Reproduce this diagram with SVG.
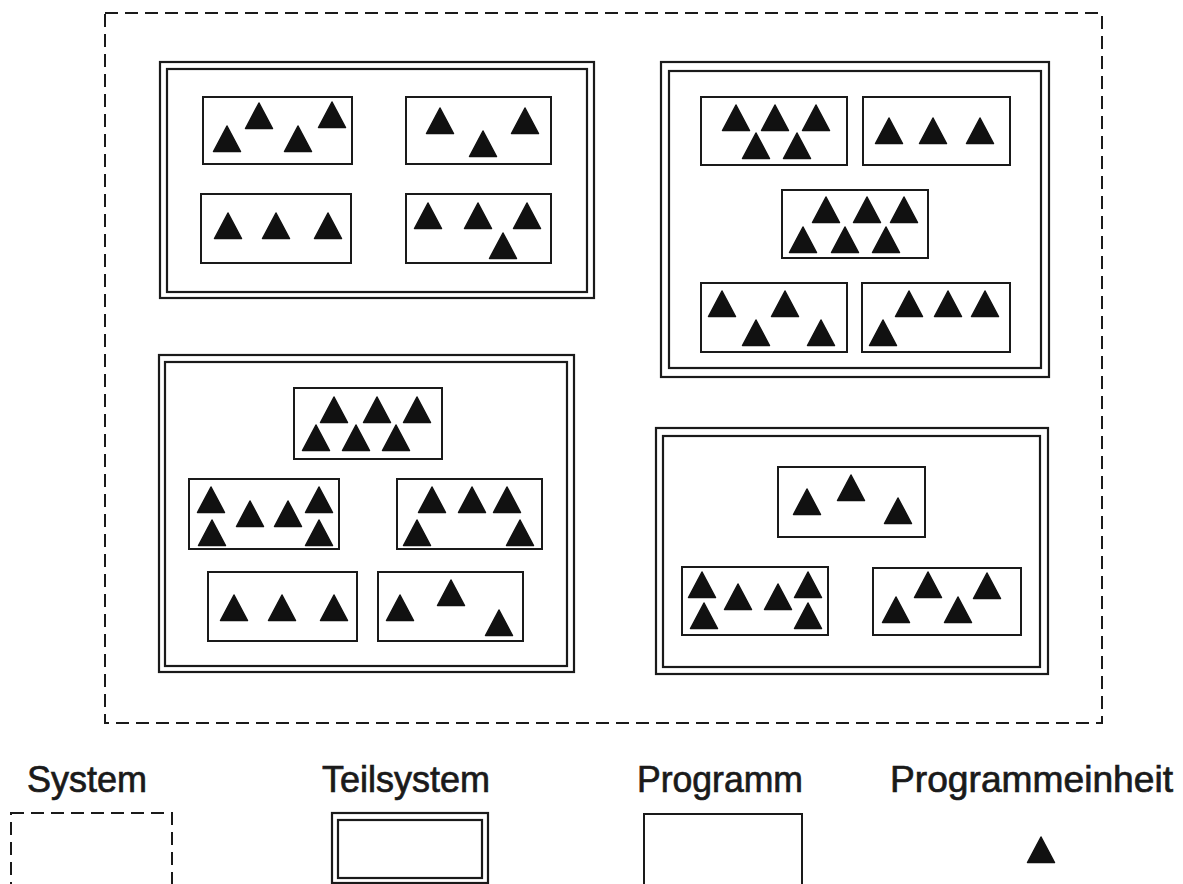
<svg xmlns="http://www.w3.org/2000/svg" xmlns:xlink="http://www.w3.org/1999/xlink" width="1183" height="884" viewBox="0 0 1183 884">
  <style>
    .sys { fill: none; stroke: #1a1a1a; stroke-width: 2; stroke-dasharray: 13 7; }
    .sub { fill: none; stroke: #1a1a1a; stroke-width: 2.2; }
    .prog { fill: #ffffff; stroke: #1a1a1a; stroke-width: 2; }
    .unit { fill: #111111; stroke: #111111; stroke-width: 1.5; stroke-linejoin: round; }
    .label { font-family: "Liberation Sans", Arial, sans-serif; font-size: 36px; fill: #1a1a1a; stroke: #1a1a1a; stroke-width: 0.7; }
  </style>
  <defs>
    <!-- program unit: solid triangle, anchored at its apex -->
    <path id="pe" class="unit" d="M0,0 L13.5,25.5 L-13.5,25.5 Z"/>
  </defs>
  <rect width="1183" height="884" fill="#ffffff"/>

  <!-- system boundary -->
  <g id="system">
    <rect class="sys" x="105" y="13" width="997" height="710"/>
  </g>

  <!-- subsystem top left -->
  <g id="teilsystem-1">
    <rect class="sub" x="160" y="62" width="434" height="236"/>
    <rect class="sub" x="167" y="69" width="420" height="223"/>
    <g id="programm-1-1">
      <rect class="prog" x="203" y="97" width="149" height="67"/>
      <use href="#pe" x="227" y="126"/><use href="#pe" x="259" y="103"/>
      <use href="#pe" x="298" y="126"/><use href="#pe" x="332" y="102"/>
    </g>
    <g id="programm-1-2">
      <rect class="prog" x="406" y="97" width="145" height="67"/>
      <use href="#pe" x="440" y="108"/><use href="#pe" x="483" y="131"/>
      <use href="#pe" x="525" y="108"/>
    </g>
    <g id="programm-1-3">
      <rect class="prog" x="201" y="194" width="150" height="69"/>
      <use href="#pe" x="228" y="213"/><use href="#pe" x="276" y="213"/>
      <use href="#pe" x="328" y="213"/>
    </g>
    <g id="programm-1-4">
      <rect class="prog" x="406" y="194" width="145" height="69"/>
      <use href="#pe" x="428" y="203"/><use href="#pe" x="478" y="203"/>
      <use href="#pe" x="527" y="203"/><use href="#pe" x="503" y="233"/>
    </g>
  </g>

  <!-- subsystem top right -->
  <g id="teilsystem-2">
    <rect class="sub" x="661" y="62" width="388" height="315"/>
    <rect class="sub" x="669" y="71" width="372" height="297"/>
    <g id="programm-2-1">
      <rect class="prog" x="701" y="97" width="146" height="68"/>
      <use href="#pe" x="736" y="105"/><use href="#pe" x="775" y="105"/>
      <use href="#pe" x="816" y="105"/><use href="#pe" x="756" y="133"/>
      <use href="#pe" x="797" y="133"/>
    </g>
    <g id="programm-2-2">
      <rect class="prog" x="863" y="97" width="147" height="68"/>
      <use href="#pe" x="889" y="118"/><use href="#pe" x="933" y="118"/>
      <use href="#pe" x="980" y="118"/>
    </g>
    <g id="programm-2-3">
      <rect class="prog" x="782" y="190" width="146" height="68"/>
      <use href="#pe" x="826" y="197"/><use href="#pe" x="867" y="197"/>
      <use href="#pe" x="904" y="197"/><use href="#pe" x="803" y="227"/>
      <use href="#pe" x="845" y="227"/><use href="#pe" x="886" y="227"/>
    </g>
    <g id="programm-2-4">
      <rect class="prog" x="701" y="283" width="146" height="69"/>
      <use href="#pe" x="722" y="291"/><use href="#pe" x="785" y="291"/>
      <use href="#pe" x="756" y="320"/><use href="#pe" x="821" y="320"/>
    </g>
    <g id="programm-2-5">
      <rect class="prog" x="862" y="283" width="148" height="69"/>
      <use href="#pe" x="909" y="291"/><use href="#pe" x="948" y="291"/>
      <use href="#pe" x="985" y="291"/><use href="#pe" x="883" y="320"/>
    </g>
  </g>

  <!-- subsystem bottom left -->
  <g id="teilsystem-3">
    <rect class="sub" x="159" y="355" width="415" height="317"/>
    <rect class="sub" x="165" y="362" width="402" height="304"/>
    <g id="programm-3-1">
      <rect class="prog" x="294" y="388" width="148" height="71"/>
      <use href="#pe" x="334" y="397"/><use href="#pe" x="377" y="397"/>
      <use href="#pe" x="417" y="397"/><use href="#pe" x="316" y="425"/>
      <use href="#pe" x="356" y="425"/><use href="#pe" x="396" y="425"/>
    </g>
    <g id="programm-3-2">
      <rect class="prog" x="189" y="479" width="150" height="70"/>
      <use href="#pe" x="211" y="487"/><use href="#pe" x="250" y="501"/>
      <use href="#pe" x="288" y="501"/><use href="#pe" x="319" y="487"/>
      <use href="#pe" x="212" y="520"/><use href="#pe" x="319" y="520"/>
    </g>
    <g id="programm-3-3">
      <rect class="prog" x="397" y="479" width="145" height="70"/>
      <use href="#pe" x="432" y="487"/><use href="#pe" x="472" y="487"/>
      <use href="#pe" x="507" y="487"/><use href="#pe" x="417" y="520"/>
      <use href="#pe" x="520" y="520"/>
    </g>
    <g id="programm-3-4">
      <rect class="prog" x="208" y="572" width="149" height="69"/>
      <use href="#pe" x="234" y="595"/><use href="#pe" x="282" y="595"/>
      <use href="#pe" x="334" y="595"/>
    </g>
    <g id="programm-3-5">
      <rect class="prog" x="378" y="572" width="145" height="69"/>
      <use href="#pe" x="400" y="595"/><use href="#pe" x="451" y="580"/>
      <use href="#pe" x="499" y="610"/>
    </g>
  </g>

  <!-- subsystem bottom right -->
  <g id="teilsystem-4">
    <rect class="sub" x="656" y="428" width="392" height="246"/>
    <rect class="sub" x="663" y="436" width="377" height="231"/>
    <g id="programm-4-1">
      <rect class="prog" x="778" y="467" width="147" height="70"/>
      <use href="#pe" x="807" y="489"/><use href="#pe" x="851" y="475"/>
      <use href="#pe" x="898" y="498"/>
    </g>
    <g id="programm-4-2">
      <rect class="prog" x="682" y="567" width="146" height="68"/>
      <use href="#pe" x="702" y="572"/><use href="#pe" x="738" y="584"/>
      <use href="#pe" x="778" y="584"/><use href="#pe" x="808" y="572"/>
      <use href="#pe" x="704" y="603"/><use href="#pe" x="808" y="603"/>
    </g>
    <g id="programm-4-3">
      <rect class="prog" x="873" y="568" width="148" height="67"/>
      <use href="#pe" x="928" y="572"/><use href="#pe" x="987" y="573"/>
      <use href="#pe" x="896" y="597"/><use href="#pe" x="958" y="597"/>
    </g>
  </g>

  <!-- legend -->
  <g id="legende-system">
    <text class="label" x="27" y="792" textLength="120" lengthAdjust="spacingAndGlyphs">System</text>
    <rect class="sys" x="11" y="813" width="161" height="80"/>
  </g>
  <g id="legende-teilsystem">
    <text class="label" x="322" y="792" textLength="168" lengthAdjust="spacingAndGlyphs">Teilsystem</text>
    <rect class="sub" x="332" y="813" width="156" height="70"/>
    <rect class="sub" x="338" y="820" width="144" height="58"/>
  </g>
  <g id="legende-programm">
    <text class="label" x="637" y="792" textLength="166" lengthAdjust="spacingAndGlyphs">Programm</text>
    <rect class="prog" x="644" y="814" width="158" height="80"/>
  </g>
  <g id="legende-programmeinheit">
    <text class="label" x="890" y="792" textLength="283" lengthAdjust="spacingAndGlyphs">Programmeinheit</text>
    <use href="#pe" x="1041" y="837"/>
  </g>
</svg>
